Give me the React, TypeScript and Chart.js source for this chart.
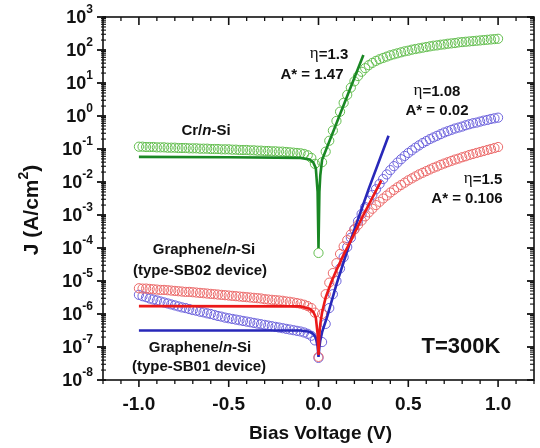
import React, { useEffect, useRef } from 'react';
import { Chart, registerables } from 'chart.js';
Chart.register(...registerables);

// Bias voltage (V) of the measured points
const voltage = [
  -1.0, -0.98, -0.96, -0.94, -0.92, -0.9, -0.88, -0.86, -0.84, -0.82,
  -0.8, -0.78, -0.76, -0.74, -0.72, -0.7, -0.68, -0.66, -0.64, -0.62,
  -0.6, -0.58, -0.56, -0.54, -0.52, -0.5, -0.48, -0.46, -0.44, -0.42,
  -0.4, -0.38, -0.36, -0.34, -0.32, -0.3, -0.28, -0.26, -0.24, -0.22,
  -0.2, -0.18, -0.16, -0.14, -0.12, -0.1, -0.08, -0.06, -0.04, -0.02,
  0.0,
  0.02, 0.04, 0.06, 0.08, 0.1, 0.12, 0.14, 0.16, 0.18, 0.2,
  0.22, 0.24, 0.26, 0.28, 0.3, 0.32, 0.34, 0.36, 0.38, 0.4,
  0.42, 0.44, 0.46, 0.48, 0.5, 0.52, 0.54, 0.56, 0.58, 0.6,
  0.62, 0.64, 0.66, 0.68, 0.7, 0.72, 0.74, 0.76, 0.78, 0.8,
  0.82, 0.84, 0.86, 0.88, 0.9, 0.92, 0.94, 0.96, 0.98, 1.0,
];

// log10 of J (A/cm^2), measured (circles)
const crLog10J = [
  -0.93, -0.93, -0.94, -0.94, -0.94, -0.95, -0.95, -0.95, -0.96, -0.96,
  -0.96, -0.97, -0.97, -0.97, -0.98, -0.98, -0.98, -0.99, -0.99, -0.99,
  -1.0, -1.0, -1.0, -1.01, -1.01, -1.01, -1.02, -1.02, -1.03, -1.03,
  -1.03, -1.04, -1.04, -1.05, -1.05, -1.06, -1.06, -1.07, -1.07, -1.08,
  -1.08, -1.09, -1.1, -1.11, -1.12, -1.13, -1.15, -1.19, -1.27, -1.45,
  -4.15,
  -1.4, -1.08, -0.75, -0.44, -0.15, 0.13, 0.4, 0.64, 0.86, 1.05,
  1.21, 1.34, 1.45, 1.54, 1.61, 1.67, 1.72, 1.76, 1.8, 1.84,
  1.87, 1.9, 1.93, 1.96, 1.98, 2.01, 2.03, 2.05, 2.07, 2.09,
  2.11, 2.13, 2.14, 2.16, 2.17, 2.19, 2.2, 2.21, 2.23, 2.24,
  2.25, 2.26, 2.27, 2.28, 2.29, 2.3, 2.31, 2.32, 2.33, 2.34,
];

const sb01Log10J = [
  -5.42, -5.46, -5.49, -5.53, -5.56, -5.59, -5.62, -5.65, -5.68, -5.71,
  -5.74, -5.77, -5.8, -5.82, -5.85, -5.88, -5.9, -5.93, -5.95, -5.98,
  -6.0, -6.03, -6.06, -6.08, -6.11, -6.13, -6.15, -6.17, -6.19, -6.21,
  -6.23, -6.25, -6.27, -6.29, -6.31, -6.33, -6.35, -6.37, -6.39, -6.41,
  -6.43, -6.45, -6.47, -6.49, -6.51, -6.53, -6.56, -6.6, -6.66, -6.8,
  -7.33,
  -6.85, -6.3, -5.82, -5.4, -5.0, -4.62, -4.28, -3.97, -3.69, -3.43,
  -3.19, -2.97, -2.76, -2.57, -2.39, -2.22, -2.06, -1.91, -1.77, -1.64,
  -1.52, -1.41, -1.31, -1.21, -1.12, -1.04, -0.96, -0.89, -0.82, -0.76,
  -0.7, -0.65, -0.6, -0.55, -0.5, -0.46, -0.42, -0.38, -0.35, -0.32,
  -0.28, -0.25, -0.22, -0.2, -0.17, -0.14, -0.12, -0.09, -0.07, -0.05,
];

const sb02Log10J = [
  -5.22, -5.23, -5.23, -5.24, -5.25, -5.26, -5.27, -5.27, -5.28, -5.29,
  -5.3, -5.31, -5.32, -5.33, -5.33, -5.34, -5.35, -5.36, -5.37, -5.38,
  -5.39, -5.4, -5.41, -5.42, -5.43, -5.44, -5.45, -5.46, -5.47, -5.48,
  -5.49, -5.5, -5.51, -5.52, -5.53, -5.55, -5.56, -5.57, -5.58, -5.59,
  -5.6, -5.62, -5.63, -5.65, -5.67, -5.69, -5.72, -5.76, -5.82, -5.96,
  -7.3,
  -6.0, -5.4, -5.05, -4.76, -4.46, -4.18, -3.95, -3.76, -3.59, -3.44,
  -3.3, -3.17, -3.04, -2.92, -2.81, -2.7, -2.6, -2.5, -2.41, -2.32,
  -2.24, -2.16, -2.09, -2.02, -1.95, -1.89, -1.83, -1.77, -1.72, -1.67,
  -1.62, -1.57, -1.53, -1.48, -1.44, -1.4, -1.36, -1.32, -1.29, -1.25,
  -1.22, -1.18, -1.15, -1.12, -1.09, -1.06, -1.03, -1.0, -0.97, -0.94,
];

// Fit lines (V, log10 J)
const crFitV = [-1.0, -0.5, -0.1, -0.05, -0.03, -0.015, -0.005, 0.0, 0.005, 0.01, 0.02, 0.25];
const crFitLog10J = [-1.24, -1.25, -1.27, -1.32, -1.4, -1.58, -2.3, -4.0, -2.3, -1.8, -1.33, 1.85];

const sb01FitV = [-1.0, -0.1, -0.05, -0.03, -0.015, -0.005, 0.0, 0.005, 0.01, 0.02, 0.05, 0.1, 0.18, 0.28, 0.39];
const sb01FitLog10J = [-6.5, -6.5, -6.54, -6.6, -6.72, -6.98, -7.3, -7.0, -6.8, -6.55, -6.05, -5.1, -3.75, -2.2, -0.6];

const sb02FitV = [-1.0, -0.1, -0.05, -0.03, -0.015, -0.005, 0.0, 0.005, 0.01, 0.02, 0.04, 0.07, 0.1, 0.14, 0.18, 0.25, 0.35];
const sb02FitLog10J = [-5.76, -5.77, -5.84, -5.93, -6.1, -6.6, -7.24, -6.6, -6.3, -5.95, -5.5, -5.05, -4.67, -4.2, -3.78, -3.0, -1.95];

// Axis ticks
const xMajorTicks = [-1.0, -0.5, 0.0, 0.5, 1.0];
const xMajorLabels = ['-1.0', '-0.5', '0.0', '0.5', '1.0'];
const xMinorTicks = [-1.2, -1.1, -0.9, -0.8, -0.7, -0.6, -0.4, -0.3, -0.2, -0.1, 0.1, 0.2, 0.3, 0.4, 0.6, 0.7, 0.8, 0.9, 1.1, 1.2];
const yDecadeExponents = [-8, -7, -6, -5, -4, -3, -2, -1, 0, 1, 2, 3];
const yMinorMultipliers = [2, 3, 4, 5, 6, 7, 8, 9];

const SANS = "'Liberation Sans', Arial, sans-serif";
const SERIF = "'Liberation Serif', 'Times New Roman', serif";

const toPoints = (xs: number[], logs: number[]) =>
  xs.map((x, i) => ({ x, y: Math.pow(10, logs[i]) }));

type Run = { t: string; f: string; dy?: number };

function drawRuns(ctx: CanvasRenderingContext2D, runs: Run[], cx: number, cy: number, color = '#111') {
  let total = 0;
  const widths = runs.map((r) => {
    ctx.font = r.f;
    const w = ctx.measureText(r.t).width;
    total += w;
    return w;
  });
  let x = cx - total / 2;
  ctx.fillStyle = color;
  ctx.textAlign = 'left';
  ctx.textBaseline = 'middle';
  runs.forEach((r, i) => {
    ctx.font = r.f;
    ctx.fillText(r.t, x, cy + (r.dy || 0));
    x += widths[i];
  });
}

const framePlugin = {
  id: 'framePlugin',
  afterDraw(chart: any) {
    const ctx: CanvasRenderingContext2D = chart.ctx;
    const { left, right, top, bottom } = chart.chartArea;
    const xs = chart.scales.x;
    const ys = chart.scales.y;
    ctx.save();
    ctx.strokeStyle = '#111';
    ctx.lineWidth = 1.6;
    ctx.strokeRect(left, top, right - left, bottom - top);

    const seg = (x1: number, y1: number, x2: number, y2: number, w: number) => {
      ctx.lineWidth = w;
      ctx.beginPath();
      ctx.moveTo(x1, y1);
      ctx.lineTo(x2, y2);
      ctx.stroke();
    };

    // x ticks (bottom outward, top inward)
    xMajorTicks.forEach((v) => {
      const px = xs.getPixelForValue(v);
      seg(px, bottom, px, bottom + 7, 1.6);
      seg(px, top, px, top + 8, 1.6);
    });
    xMinorTicks.forEach((v) => {
      const px = xs.getPixelForValue(v);
      seg(px, bottom, px, bottom + 4, 1.3);
      seg(px, top, px, top + 4, 1.3);
    });

    // y ticks (left outward, right inward)
    yDecadeExponents.forEach((e) => {
      const py = ys.getPixelForValue(Math.pow(10, e));
      seg(left - 6, py, left + 3, py, 1.8);
      seg(right - 7, py, right, py, 1.8);
      if (e < 3) {
        yMinorMultipliers.forEach((m) => {
          const pm = ys.getPixelForValue(m * Math.pow(10, e));
          seg(left - 2, pm, left + 3, pm, 1.1);
          seg(right - 4, pm, right, pm, 1.1);
        });
      }
    });

    // y tick labels 10^n
    yDecadeExponents.forEach((e) => {
      const py = ys.getPixelForValue(Math.pow(10, e));
      const expText = String(e);
      ctx.font = `bold 12px ${SANS}`;
      const we = ctx.measureText(expText).width;
      ctx.font = `bold 18px ${SANS}`;
      const wb = ctx.measureText('10').width;
      const xEnd = left - 10;
      ctx.fillStyle = '#111';
      ctx.textAlign = 'left';
      ctx.textBaseline = 'middle';
      ctx.fillText('10', xEnd - we - wb, py + 1);
      ctx.font = `bold 12px ${SANS}`;
      ctx.fillText(expText, xEnd - we, py - 7);
    });

    // x tick labels
    ctx.font = `bold 19px ${SANS}`;
    ctx.textAlign = 'center';
    ctx.textBaseline = 'middle';
    ctx.fillStyle = '#111';
    xMajorTicks.forEach((v, i) => {
      ctx.fillText(xMajorLabels[i], xs.getPixelForValue(v), 405);
    });

    // axis titles
    ctx.font = `bold 19px ${SANS}`;
    ctx.fillText('Bias Voltage (V)', (left + right) / 2 + 2, 434);
    ctx.save();
    ctx.translate(32, 210);
    ctx.rotate(-Math.PI / 2);
    drawRuns(ctx, [
      { t: 'J (A/cm', f: `bold 21px ${SANS}` },
      { t: '2', f: `bold 14px ${SANS}`, dy: -8 },
      { t: ')', f: `bold 21px ${SANS}` },
    ], 0, 0);
    ctx.restore();

    // annotations
    const B = `bold 15px ${SANS}`;
    const BI = `italic bold 15px ${SANS}`;
    const ETA = `17px ${SERIF}`;
    drawRuns(ctx, [{ t: 'Cr/', f: B }, { t: 'n', f: BI }, { t: '-Si', f: B }], 206, 131);
    drawRuns(ctx, [{ t: 'Graphene/', f: B }, { t: 'n', f: BI }, { t: '-Si', f: B }], 204, 250);
    drawRuns(ctx, [{ t: '(type-SB02 device)', f: B }], 200, 271);
    drawRuns(ctx, [{ t: 'Graphene/', f: B }, { t: 'n', f: BI }, { t: '-Si', f: B }], 200, 348);
    drawRuns(ctx, [{ t: '(type-SB01 device)', f: B }], 199, 367);
    drawRuns(ctx, [{ t: 'T=300K', f: `bold 22px ${SANS}` }], 461, 347);
    drawRuns(ctx, [{ t: 'η', f: ETA, dy: -1 }, { t: '=1.3', f: B }], 329, 55);
    drawRuns(ctx, [{ t: 'A* = 1.47', f: B }], 312, 75);
    drawRuns(ctx, [{ t: 'η', f: ETA, dy: -1 }, { t: '=1.08', f: B }], 437, 92);
    drawRuns(ctx, [{ t: 'A* = 0.02', f: B }], 437, 111);
    drawRuns(ctx, [{ t: 'η', f: ETA, dy: -1 }, { t: '=1.5', f: B }], 483, 180);
    drawRuns(ctx, [{ t: 'A* = 0.106', f: B }], 467, 199);
    ctx.restore();
  },
};

const GREEN_PT = 'rgb(100,190,80)';
const GREEN_LN = 'rgb(25,135,35)';
const BLUE_PT = 'rgb(110,100,220)';
const BLUE_LN = 'rgb(40,40,185)';
const RED_PT = 'rgb(235,105,105)';
const RED_LN = 'rgb(235,25,25)';

const circleSet = (label: string, logs: number[], color: string) => ({
  label,
  data: toPoints(voltage, logs),
  showLine: false,
  pointStyle: 'circle',
  pointRadius: 4.6,
  pointBorderWidth: 1,
  pointBorderColor: color,
  pointBackgroundColor: 'rgba(0,0,0,0)',
  borderColor: color,
  order: 2,
});

const lineSet = (label: string, xs: number[], logs: number[], color: string) => ({
  label,
  data: toPoints(xs, logs),
  showLine: true,
  pointRadius: 0,
  borderWidth: 2.6,
  borderColor: color,
  backgroundColor: color,
  tension: 0,
  fill: false,
  order: 1,
});

export default function App() {
  const ref = useRef<HTMLCanvasElement | null>(null);
  useEffect(() => {
    if (!ref.current) return;
    const chart = new Chart(ref.current, {
      type: 'scatter',
      data: {
        datasets: [
          lineSet('Cr/n-Si fit', crFitV, crFitLog10J, GREEN_LN),
          lineSet('SB02 fit', sb02FitV, sb02FitLog10J, RED_LN),
          lineSet('SB01 fit', sb01FitV, sb01FitLog10J, BLUE_LN),
          circleSet('Cr/n-Si', crLog10J, GREEN_PT),
          circleSet('Graphene/n-Si SB02', sb02Log10J, RED_PT),
          circleSet('Graphene/n-Si SB01', sb01Log10J, BLUE_PT),
        ] as any,
      },
      options: {
        responsive: false,
        animation: false,
        layout: { padding: { left: 103, right: 6, top: 17, bottom: 68 } },
        plugins: { legend: { display: false }, tooltip: { enabled: false } },
        scales: {
          x: { type: 'linear', min: -1.2, max: 1.2, display: false },
          y: { type: 'logarithmic', min: 1e-8, max: 1e3, display: false },
        },
      },
      plugins: [framePlugin],
    });
    return () => chart.destroy();
  }, []);
  return (
    <div style={{ position: 'fixed', left: 0, top: 0, width: 540, height: 448, background: '#fff' }}>
      <canvas ref={ref} width={540} height={448} />
    </div>
  );
}
